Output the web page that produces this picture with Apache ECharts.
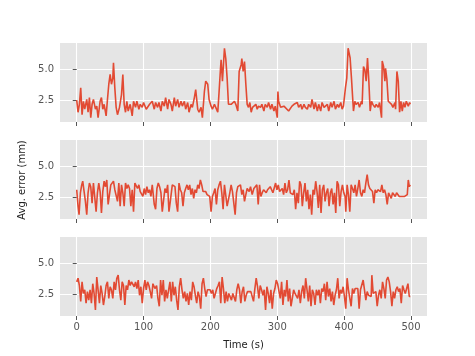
<!DOCTYPE html>
<html>
<head>
<meta charset="utf-8">
<script src="https://cdn.jsdelivr.net/npm/echarts@6/dist/echarts.min.js"></script>
<style>
  html, body { margin: 0; padding: 0; background: #fff; }
  #chart { width: 475px; height: 356px; }
</style>
</head>
<body>
<div id="chart"></div>
<script>
// tick positions
var timeTicks = [0, 100, 200, 300, 400, 500];
var errTicks = [2.5, 5.0];

// [time (s), avg. error (mm)]
var err1 = [[0,2.5],[2,1.5],[4,2.15],[6,3.5],[8,1.3],[10,2.4],[12,1.75],[15,2.55],[17,1.5],[19,2.7],[21,1.05],[23,2.15],[25,2.55],[28,1.75],[30,2.0],[32,1.05],[35,2.4],[37,2.7],[39,1.75],[41,2.15],[44,1.2],[46,2.55],[48,3.8],[50,4.6],[52,3.8],[54,4.3],[55,5.55],[57,3.5],[59,1.9],[61,1.3],[64,1.9],[67,2.95],[69,4.6],[71,2.15],[73,1.5],[75,2.4],[77,1.6],[80,2.15],[83,1.2],[85,2.4],[88,1.9],[90,2.4],[93,1.75],[95,2.15],[98,1.9],[100,2.3],[104,1.75],[109,2.15],[113,2.4],[116,1.75],[118,2.3],[121,1.9],[123,2.3],[126,1.6],[128,2.4],[131,2.0],[133,2.7],[136,1.75],[138,2.55],[141,2.15],[143,1.6],[146,2.7],[148,2.0],[151,2.55],[153,1.9],[156,2.4],[158,2.0],[161,2.4],[163,1.75],[166,2.3],[168,1.5],[171,2.15],[173,1.9],[176,2.7],[178,3.35],[181,1.75],[183,1.5],[186,1.9],[188,1.05],[191,3.2],[193,4.05],[196,3.8],[198,2.55],[201,2.0],[203,1.75],[206,2.15],[208,1.9],[211,1.5],[213,3.2],[215,5.0],[216,5.8],[218,4.05],[221,6.75],[223,5.9],[225,4.3],[227,2.15],[229,2.3],[231,2.15],[233,2.3],[236,2.4],[238,2.15],[241,1.6],[243,4.85],[246,5.4],[247,5.9],[249,4.85],[251,5.65],[253,3.8],[255,2.15],[257,1.9],[259,2.3],[261,1.5],[263,1.9],[268,2.15],[270,1.75],[272,2.0],[275,1.9],[277,2.15],[280,1.6],[282,2.15],[285,1.9],[287,2.3],[290,1.75],[292,2.15],[295,1.6],[297,2.0],[299,2.15],[300,1.05],[301,3.2],[302,2.4],[305,1.9],[307,1.75],[310,2.0],[312,1.9],[317,1.6],[322,2.0],[325,2.15],[327,2.0],[330,2.3],[332,1.9],[335,2.15],[337,1.75],[340,2.15],[342,1.9],[345,1.75],[347,2.15],[350,1.9],[352,2.55],[355,1.75],[357,2.3],[360,1.6],[362,2.15],[365,1.6],[367,2.3],[370,1.9],[372,1.75],[375,2.15],[377,1.6],[380,2.3],[382,1.9],[385,2.4],[387,1.75],[390,2.15],[392,1.9],[395,2.3],[397,1.75],[399,2.0],[401,1.9],[402,3.5],[404,4.3],[406,6.75],[407,6.9],[409,5.95],[411,4.3],[412,4.45],[414,1.6],[416,2.4],[418,2.15],[421,2.3],[423,1.9],[426,2.4],[427,2.15],[429,5.25],[431,5.0],[433,4.05],[435,5.95],[437,4.05],[439,1.6],[441,2.4],[443,2.15],[446,1.9],[448,2.15],[451,1.9],[453,2.3],[456,1.05],[457,5.7],[459,5.25],[461,4.05],[462,5.1],[464,4.2],[466,2.4],[468,2.55],[471,2.15],[473,1.9],[476,2.3],[477,1.75],[479,4.85],[481,4.05],[483,1.5],[485,2.4],[487,1.6],[489,2.3],[491,1.9],[493,2.4],[496,2.0],[498,2.3],[499,2.15]];

var err2 = [[0,3.1],[2,1.75],[3.5,1.05],[5.5,2.85],[7.5,3.5],[9,3.8],[11,3.65],[13,2.15],[15,1.05],[17,2.85],[19,3.65],[21,3.35],[23,2.0],[25,3.65],[27,3.5],[29,1.3],[31,2.85],[33,3.65],[35,2.95],[37,1.2],[39,2.95],[41,3.8],[43,3.35],[45,3.9],[47,1.9],[49,1.75],[51,3.5],[53,3.65],[55,3.8],[57,3.1],[59,3.2],[61,2.15],[63,3.65],[65,1.75],[67,3.5],[69,2.85],[71,1.75],[73,3.65],[75,3.2],[77,3.5],[79,3.2],[81,1.75],[83,3.1],[85,1.3],[87,3.65],[89,3.5],[91,3.2],[93,3.5],[95,2.95],[97,3.1],[99,2.55],[101,3.2],[103,2.7],[105,3.35],[107,2.85],[109,3.1],[111,2.55],[113,3.5],[116,1.9],[118,1.5],[120,3.2],[122,3.65],[124,3.35],[126,2.85],[128,1.3],[130,1.2],[132,3.2],[134,2.85],[136,3.5],[138,1.3],[140,2.15],[141,2.3],[143,3.5],[145,3.65],[147,3.35],[149,2.0],[151,1.3],[153,3.65],[155,3.1],[157,2.85],[159,1.75],[161,2.85],[163,3.2],[165,3.5],[167,3.1],[169,3.5],[171,2.7],[173,3.2],[175,2.4],[177,3.1],[179,2.85],[181,3.5],[183,3.2],[185,3.9],[187,3.5],[189,2.95],[191,2.85],[193,2.95],[195,2.7],[197,2.85],[199,2.55],[201,1.3],[203,2.55],[205,2.85],[207,3.2],[209,1.9],[211,3.1],[213,3.5],[215,3.8],[217,2.85],[219,1.5],[221,3.5],[223,3.65],[225,1.75],[227,1.6],[229,2.85],[231,3.5],[233,2.95],[235,3.1],[237,1.05],[239,2.85],[241,3.35],[243,3.2],[245,3.5],[247,2.7],[249,3.1],[251,2.15],[253,2.7],[255,3.2],[258,2.95],[260,3.35],[262.5,2.7],[265,3.2],[267.5,3.1],[269.5,3.5],[271.5,1.9],[273.5,3.5],[275.5,2.55],[277.5,2.85],[279.5,3.1],[281.5,2.95],[283.5,2.85],[285.5,3.1],[287.5,3.2],[289.5,3.35],[291.5,3.1],[293.5,2.85],[295.5,2.95],[297.5,3.65],[299.5,3.1],[301.5,3.5],[303.5,2.95],[305.5,2.85],[307.5,3.2],[309.5,2.7],[311.5,3.65],[313.5,2.85],[315.5,3.1],[317.5,3.9],[319.5,2.85],[321.5,2.95],[323.5,2.7],[325.5,3.1],[327.5,1.5],[329.5,2.85],[331.5,2.0],[333.5,3.8],[335.5,3.5],[337.5,1.75],[339.5,2.85],[341.5,3.65],[343.5,2.15],[345.5,3.1],[347.5,1.5],[349.5,2.7],[351.5,1.05],[353.5,3.1],[355.5,2.7],[357.5,3.8],[359.5,2.95],[361.5,1.6],[363.5,3.5],[365.5,1.2],[367.5,3.1],[369.5,3.5],[371.5,2.15],[373.5,2.85],[375.5,3.2],[377.5,1.75],[379.5,2.85],[381.5,3.2],[383.5,1.9],[385.5,2.85],[387.5,1.2],[389.5,3.8],[391.5,3.5],[393.5,1.75],[395.5,2.95],[397.5,3.5],[399.5,2.85],[401.5,2.55],[402.5,1.3],[404.5,3.5],[406.5,2.7],[408.5,1.3],[410.5,3.5],[412.5,3.2],[414.5,2.85],[416.5,3.5],[418.5,2.55],[420.5,3.2],[422.5,3.9],[424.5,2.85],[426.5,2.55],[428.5,3.1],[430.5,2.85],[432.5,3.65],[434.5,4.35],[436.5,3.5],[438.5,3.2],[440.5,3.1],[442.5,2.95],[444.5,2.0],[446.5,3.1],[448.5,2.85],[450.5,3.1],[452.5,3.2],[454.5,2.95],[456.5,3.5],[458.5,2.85],[460.5,3.1],[462.5,2.7],[464.5,1.9],[466.5,2.85],[468.5,2.95],[470.5,2.4],[472.5,2.85],[474.5,2.95],[476.5,2.55],[478.5,2.85],[480.5,2.7],[482.5,2.55],[484.5,2.7],[486.5,2.55],[488.5,2.7],[490.5,2.55],[492.5,2.4],[494.5,2.7],[496,3.9],[497.5,3.35],[499,3.5]];

var err3 = [[0,3.5],[2,3.8],[4,3.2],[6,1.9],[8,3.5],[10,2.55],[12,2.85],[14,1.75],[16,2.7],[18,2.0],[20,2.85],[22,1.75],[24,3.35],[26,2.55],[28,1.2],[30,3.9],[32,3.8],[34,1.75],[36,3.2],[38,2.55],[40,1.6],[42,2.3],[44,3.2],[46,3.5],[48,2.15],[50,3.1],[52,2.85],[54,2.15],[56,3.5],[58,2.85],[60,3.8],[62,4.05],[64,2.85],[66,2.0],[68,3.5],[70,3.2],[72,1.6],[74,3.2],[76,2.85],[78,3.65],[80,3.2],[82,3.5],[84,3.35],[86,3.1],[88,3.5],[90,2.95],[92,3.65],[94,2.4],[96,3.1],[98,1.75],[100,2.95],[102,3.65],[104,2.85],[106,3.5],[108,3.2],[110,2.7],[112,2.15],[114,3.35],[117,2.95],[119.5,3.2],[121.5,2.15],[123.5,1.5],[125.5,3.65],[127.5,2.4],[129.5,3.65],[131.5,1.9],[133.5,2.85],[135.5,2.15],[137.5,2.85],[139.5,3.5],[141.5,1.9],[143.5,3.5],[145.5,2.4],[147.5,3.1],[149.5,2.0],[151.5,1.2],[153.5,3.1],[155.5,3.8],[157.5,2.85],[159.5,2.15],[161.5,2.7],[163.5,1.9],[165.5,2.55],[167.5,1.6],[169.5,2.7],[171.5,2.0],[173.5,3.5],[175.5,3.1],[177.5,2.4],[179.5,1.75],[181.5,2.7],[183.5,2.3],[185.5,1.3],[187.5,3.35],[189.5,3.8],[191.5,2.95],[193.5,2.3],[195.5,2.85],[197.5,2.7],[199.5,2.85],[201.5,2.55],[203.5,2.85],[205.5,2.15],[207.5,2.55],[209.5,2.95],[211.5,3.2],[213.5,3.5],[215.5,1.75],[217.5,3.9],[219.5,2.95],[221.5,1.75],[223.5,2.7],[225.5,1.9],[227.5,2.55],[229.5,2.7],[231.5,2.0],[233.5,2.55],[235.5,2.4],[237.5,1.9],[239.5,2.85],[241.5,3.35],[243.5,2.85],[245.5,1.75],[247.5,2.7],[249.5,3.1],[251.5,1.9],[253.5,2.4],[255.5,2.7],[258,2.55],[260.5,2.7],[262.5,2.55],[264.5,1.9],[266.5,2.95],[268.5,3.8],[270.5,3.1],[272.5,2.15],[274.5,3.2],[276.5,2.85],[278.5,2.4],[280.5,2.85],[282.5,1.2],[284.5,3.1],[286.5,2.55],[288.5,1.75],[290.5,2.85],[292.5,1.3],[294.5,2.55],[296.5,2.95],[298.5,3.65],[300.5,3.35],[302.5,3.2],[304.5,2.15],[306.5,3.5],[308.5,1.6],[310.5,2.85],[312.5,2.3],[314.5,3.65],[316.5,1.9],[318.5,2.95],[320.5,1.5],[322.5,2.15],[324.5,2.85],[326.5,2.55],[328.5,2.7],[330.5,2.15],[332.5,2.85],[334.5,1.75],[336.5,2.7],[338.5,3.2],[340.5,2.15],[342.5,3.8],[344.5,3.9],[346.5,1.9],[348.5,3.2],[350.5,1.5],[352.5,2.85],[354.5,2.55],[356.5,1.6],[358.5,2.85],[360.5,2.4],[362.5,2.85],[364.5,1.75],[366.5,2.95],[368.5,2.7],[370.5,3.35],[372.5,2.0],[374.5,3.5],[376.5,2.3],[378.5,2.95],[380.5,1.9],[382.5,2.7],[384.5,1.6],[386.5,2.4],[388.5,2.85],[390.5,3.8],[392.5,2.15],[394.5,2.85],[396.5,2.55],[398.5,3.1],[400.5,2.3],[402.5,1.3],[404.5,3.8],[406.5,2.85],[408.5,2.7],[410.5,1.5],[412.5,2.95],[414.5,2.55],[416.5,2.95],[418.5,2.85],[420.5,2.95],[422.5,1.3],[424.5,2.85],[426.5,2.95],[428.5,3.65],[430.5,2.85],[432.5,2.0],[434.5,2.7],[436.5,2.4],[438.5,2.55],[440.5,2.3],[441.5,4.05],[443.5,2.55],[445.5,2.4],[447.5,2.7],[449.5,1.5],[451.5,2.4],[453.5,2.85],[455.5,2.15],[457.5,3.5],[459.5,2.95],[461.5,2.15],[463.5,3.65],[465.5,3.9],[467.5,3.5],[469.5,2.7],[471.5,1.5],[473.5,2.7],[475.5,2.15],[477.5,2.85],[479.5,3.1],[481.5,2.7],[483.5,2.95],[485.5,1.75],[487.5,3.2],[489.5,2.85],[491.5,2.55],[493.5,2.7],[495.5,3.35],[497.5,2.3],[499,2.3]];

var panels = [err1, err2, err3];
var panelTops = [43, 140, 237];

var font = "DejaVu Sans";
var grids = [], xAxes = [], yAxes = [], series = [];

panels.forEach(function (data, i) {
  grids.push({
    left: 60,
    width: 367,
    top: panelTops[i],
    height: 79,
    show: true,
    backgroundColor: "#E5E5E5",
    borderWidth: 0,
  });
  xAxes.push({
    type: "value",
    gridIndex: i,
    min: -25,
    max: 524,
    axisLine: { show: false },
    axisTick: {
      show: true,
      customValues: timeTicks,
      length: 4,
      lineStyle: { color: "#555555", width: 1 },
    },
    axisLabel: {
      show: i === 2,
      customValues: timeTicks,
      margin: 6,
      color: "#555555",
      fontSize: 10,
      fontFamily: font,
    },
    splitLine: { show: true, lineStyle: { color: "#ffffff", width: 1.1 } },
    name: i === 2 ? "Time (s)" : "",
    nameLocation: "middle",
    nameGap: 24,
    nameTextStyle: { color: "#222222", fontSize: 10, fontFamily: font },
  });
  yAxes.push({
    type: "value",
    gridIndex: i,
    min: 0.7,
    max: 7.18,
    axisLine: { show: false },
    axisTick: {
      show: true,
      customValues: errTicks,
      length: 4,
      lineStyle: { color: "#555555", width: 1 },
    },
    axisLabel: {
      customValues: errTicks,
      margin: 6,
      color: "#555555",
      fontSize: 10,
      fontFamily: font,
      formatter: function (v) {
        return v.toFixed(1);
      },
    },
    splitLine: { show: true, lineStyle: { color: "#ffffff", width: 1.1 } },
  });
  series.push({
    type: "line",
    xAxisIndex: i,
    yAxisIndex: i,
    data: data,
    showSymbol: false,
    symbol: "none",
    lineStyle: { color: "#E24A33", width: 1.6 },
    clip: true,
  });
});

var chart = echarts.init(document.getElementById("chart"));
chart.setOption({
  animation: false,
  grid: grids,
  xAxis: xAxes,
  yAxis: yAxes,
  series: series,
  graphic: [
    {
      type: "text",
      x: 22,
      y: 180,
      rotation: Math.PI / 2,
      style: {
        text: "Avg. error (mm)",
        fill: "#222222",
        fontSize: 10,
        fontFamily: font,
        align: "center",
        verticalAlign: "middle",
      },
    },
  ],
});
</script>
</body>
</html>
